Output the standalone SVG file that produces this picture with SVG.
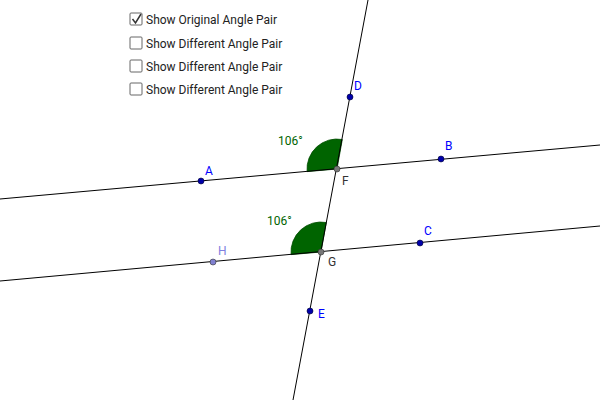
<svg xmlns="http://www.w3.org/2000/svg" width="600" height="400" viewBox="0 0 600 400">
<style>
.ln{stroke:#000;stroke-width:1;fill:none}
.pt{fill:#0000aa;stroke:#000033;stroke-width:0.6}
.lbl{font-family:Roboto,"Liberation Sans",sans-serif;font-size:12px;fill:#0000ff}
.ang{fill:#006400;stroke:#004d00;stroke-width:0.8}
.at{font-family:Roboto,"Liberation Sans",sans-serif;font-size:12px;fill:#006400}
.cb{fill:#fff;stroke:#666;stroke-width:1}
.ct{font-family:Roboto,"Liberation Sans",sans-serif;font-size:12px;fill:#222}
</style>
<rect width="600" height="400" fill="#fff"/>
<g id="checkboxes">
<rect class="cb" x="130" y="13" width="12" height="12" rx="1"/>
<path d="M132.5 19 L135.5 23 L141 14" stroke="#333" stroke-width="1.5" fill="none"/>
<text class="ct" x="146" y="24">Show Original Angle Pair</text>
<rect class="cb" x="130" y="37" width="12" height="12" rx="1"/>
<text class="ct" x="146" y="48">Show Different Angle Pair</text>
<rect class="cb" x="130" y="60" width="12" height="12" rx="1"/>
<text class="ct" x="146" y="71">Show Different Angle Pair</text>
<rect class="cb" x="130" y="83" width="12" height="12" rx="1"/>
<text class="ct" x="146" y="94">Show Different Angle Pair</text>
</g>
<g id="angles">
<path class="ang" d="M337 169 L342.3 139.5 A30 30 0 0 0 307.1 171.6 Z"/>
<path class="ang" d="M321 252 L326.3 222.5 A30 30 0 0 0 291.1 254.6 Z"/>
<text class="at" x="278" y="145">106°</text>
<text class="at" x="267" y="225">106°</text>
</g>
<g id="connectors">
<line class="ln" x1="0" y1="199" x2="600" y2="145"/>
<line class="ln" x1="0" y1="281" x2="600" y2="226"/>
<line class="ln" x1="368" y1="0" x2="293" y2="400"/>
</g>
<g id="A"><circle class="pt" cx="201" cy="181" r="3"/><text class="lbl" x="205" y="175">A</text></g>
<g id="B"><circle class="pt" cx="441" cy="159" r="3"/><text class="lbl" x="445" y="150">B</text></g>
<g id="C"><circle class="pt" cx="420" cy="243" r="3"/><text class="lbl" x="424" y="235">C</text></g>
<g id="D"><circle class="pt" cx="350" cy="97" r="3"/><text class="lbl" x="354" y="90">D</text></g>
<g id="E"><circle class="pt" cx="310" cy="311" r="3"/><text class="lbl" x="318" y="318">E</text></g>
<g id="F"><circle cx="337" cy="169" r="3" fill="#777" stroke="#333" stroke-width="0.6"/><text x="342" y="185" font-family="Roboto,'Liberation Sans',sans-serif" font-size="12" fill="#333">F</text></g>
<g id="G"><circle cx="321" cy="252" r="3" fill="#777" stroke="#333" stroke-width="0.6"/><text x="328" y="266" font-family="Roboto,'Liberation Sans',sans-serif" font-size="12" fill="#333">G</text></g>
<g id="H"><circle cx="213" cy="262" r="3" fill="#8080d0" stroke="#333" stroke-width="0.6"/><text x="218" y="255" font-family="Roboto,'Liberation Sans',sans-serif" font-size="12" fill="#8080e0">H</text></g>
</svg>
